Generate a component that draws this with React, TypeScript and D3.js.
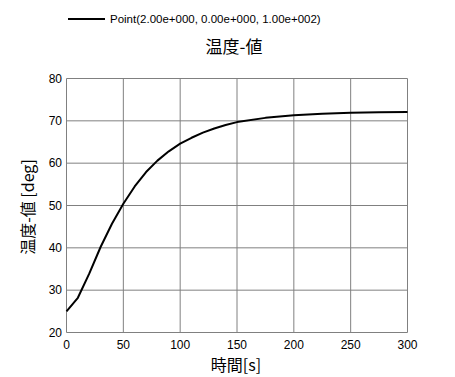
import React from "react";
import * as d3 from "d3";

const times = [0, 10, 20, 30, 40, 50, 60, 70, 80, 90, 100, 110, 120, 130, 140, 150, 175, 200, 225, 250, 275, 300];
const temps = [25.0, 28.2, 33.9, 40.2, 45.7, 50.4, 54.5, 57.9, 60.6, 62.8, 64.6, 66.0, 67.2, 68.2, 69.0, 69.7, 70.7, 71.3, 71.7, 71.9, 72.0, 72.1];
const xTicks = [0, 50, 100, 150, 200, 250, 300];
const yTicks = [20, 30, 40, 50, 60, 70, 80];
const seriesName = "Point(2.00e+000, 0.00e+000, 1.00e+002)";
const chartTitle = "温度-値";
const xTitle = "時間[s]";
const yTitle = "温度-値 [deg]";

const W = 455, H = 377;
const left = 66.5, right = 407.5, top = 78.5, bottom = 332.5;
const font = "'Liberation Sans', 'Noto Sans CJK JP', sans-serif";
const jpFont = "'Noto Sans CJK JP', sans-serif";

export default function App() {
  const x = d3.scaleLinear().domain([0, 300]).range([left, right]);
  const y = d3.scaleLinear().domain([20, 80]).range([bottom, top]);
  const line = d3
    .line<number>()
    .x((_, i) => x(times[i]))
    .y((d) => y(d))
    .curve(d3.curveLinear);
  return (
    <svg width={W} height={H} style={{ position: "absolute", left: 0, top: 0, background: "#fff" }}>
      <rect x={0} y={0} width={W} height={H} fill="#fff" />
      {/* legend */}
      <line x1={68} x2={105} y1={19} y2={19} stroke="#000" strokeWidth={2} />
      <text x={110} y={23} fontFamily={font} fontSize={11.5} fill="#000">{seriesName}</text>
      {/* title */}
      <text x={234} y={53} textAnchor="middle" fontFamily={jpFont} fontSize={17} fill="#000">{chartTitle}</text>
      {/* grid */}
      {xTicks.map((t) => (
        <line key={"gx" + t} x1={x(t)} x2={x(t)} y1={top} y2={bottom} stroke="#808080" strokeWidth={1} />
      ))}
      {yTicks.map((t) => (
        <line key={"gy" + t} x1={left} x2={right} y1={y(t)} y2={y(t)} stroke="#808080" strokeWidth={1} />
      ))}
      {/* tick labels */}
      {xTicks.map((t) => (
        <text key={"tx" + t} x={x(t)} y={349} textAnchor="middle" fontFamily={font} fontSize={12} fill="#000">{t}</text>
      ))}
      {yTicks.map((t) => (
        <text key={"ty" + t} x={62} y={y(t) + 4} textAnchor="end" fontFamily={font} fontSize={12} fill="#000">{t}</text>
      ))}
      {/* axis titles */}
      <text x={236} y={371} textAnchor="middle" fontFamily={jpFont} fontSize={16} fill="#000">{xTitle}</text>
      <text transform={`translate(34,207) rotate(-90)`} textAnchor="middle" fontFamily={jpFont} fontSize={16} fill="#000">{yTitle}</text>
      {/* series */}
      <path d={line(temps) || ""} fill="none" stroke="#000" strokeWidth={2} strokeLinejoin="round" />
    </svg>
  );
}
